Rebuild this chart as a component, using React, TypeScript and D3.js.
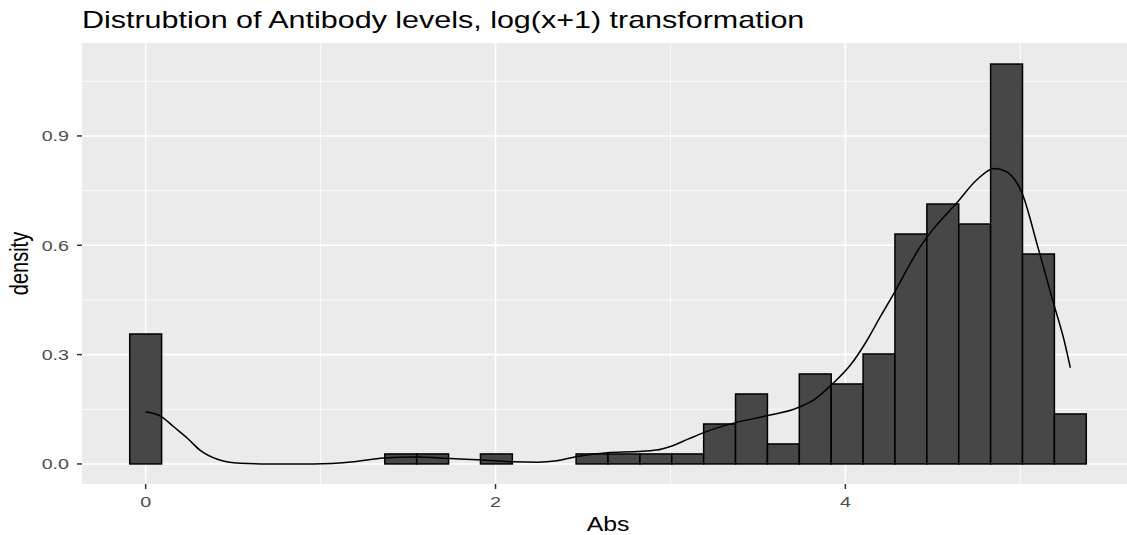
import React, { useEffect, useRef } from 'react';
import * as d3 from 'd3';

// histogram counts per bin (30 bins, centred at k * binWidth)
const binCounts = [13, 0, 0, 0, 0, 0, 0, 0, 1, 1, 0, 1, 0, 0, 1, 1, 1, 1, 4, 7, 2, 9, 8, 11, 23, 26, 24, 40, 21, 5];
const dataMax = 5.286;

// kernel density line
const densityX = [0, 0.09, 0.16, 0.24, 0.31, 0.41, 0.54, 0.7, 0.96, 1.19, 1.36, 1.55, 1.74, 1.93, 2.1, 2.24, 2.35, 2.46, 2.64, 2.81, 2.92, 3.0, 3.1, 3.19, 3.36, 3.55, 3.72, 3.82, 3.92, 4.03, 4.12, 4.2, 4.28, 4.35, 4.42, 4.5, 4.64, 4.75, 4.85, 4.92, 5.01, 5.1, 5.19, 5.25, 5.286];
const densityY = [0.143, 0.13, 0.102, 0.07, 0.038, 0.013, 0.002, 0, 0, 0.006, 0.016, 0.019, 0.015, 0.011, 0.006, 0.005, 0.009, 0.02, 0.031, 0.034, 0.038, 0.048, 0.068, 0.086, 0.112, 0.132, 0.153, 0.176, 0.217, 0.272, 0.336, 0.404, 0.47, 0.532, 0.59, 0.643, 0.718, 0.779, 0.811, 0.802, 0.743, 0.596, 0.441, 0.34, 0.264];

const xTicks = [0, 2, 4];
const xMinor = [1, 3, 5];
const yTicks = [0, 0.3, 0.6, 0.9];
const yMinor = [0.15, 0.45, 0.75, 1.05];

const W = 1127;
const H = 535;
const stretch = 1.27; // the reference text is rendered wide

const createChart = (container: SVGSVGElement) => {
    d3.select(container).selectAll('*').remove();
    const svg = d3.select(container);

    const panel = { left: 82, right: 1134, top: 43, bottom: 484 };
    const x = d3.scaleLinear().domain([-0.364, 5.65]).range([panel.left, panel.right]);
    const y = d3.scaleLinear().domain([-0.055, 1.155]).range([panel.bottom, panel.top]);

    const n = d3.sum(binCounts);
    const binWidth = dataMax / (binCounts.length - 1);
    const bins = binCounts.map((c, i) => ({ x0: i * binWidth - binWidth / 2, x1: i * binWidth + binWidth / 2, d: c / (n * binWidth) }));

    svg.append('rect')
        .attr('x', panel.left).attr('y', panel.top)
        .attr('width', panel.right - panel.left).attr('height', panel.bottom - panel.top)
        .attr('fill', '#ebebeb');

    const grid = svg.append('g');
    grid.selectAll('.xminor').data(xMinor).enter().append('line')
        .attr('x1', d => x(d)).attr('x2', d => x(d))
        .attr('y1', panel.top).attr('y2', panel.bottom)
        .attr('stroke', '#fff').attr('stroke-width', 0.8);
    grid.selectAll('.yminor').data(yMinor).enter().append('line')
        .attr('y1', d => y(d)).attr('y2', d => y(d))
        .attr('x1', panel.left).attr('x2', panel.right)
        .attr('stroke', '#fff').attr('stroke-width', 0.8);
    grid.selectAll('.xmajor').data(xTicks).enter().append('line')
        .attr('x1', d => x(d)).attr('x2', d => x(d))
        .attr('y1', panel.top).attr('y2', panel.bottom)
        .attr('stroke', '#fff').attr('stroke-width', 1.6);
    grid.selectAll('.ymajor').data(yTicks).enter().append('line')
        .attr('y1', d => y(d)).attr('y2', d => y(d))
        .attr('x1', panel.left).attr('x2', panel.right)
        .attr('stroke', '#fff').attr('stroke-width', 1.6);

    svg.append('g').selectAll('rect')
        .data(bins.filter(b => b.d > 0))
        .enter().append('rect')
        .attr('x', d => x(d.x0))
        .attr('width', d => x(d.x1) - x(d.x0))
        .attr('y', d => y(d.d))
        .attr('height', d => y(0) - y(d.d))
        .attr('fill', '#474747')
        .attr('stroke', '#000')
        .attr('stroke-width', 1.5);

    const line = d3.line<number>()
        .x((d, i) => x(densityX[i]))
        .y(d => y(d))
        .curve(d3.curveMonotoneX);
    svg.append('path')
        .attr('d', line(densityY))
        .attr('fill', 'none')
        .attr('stroke', '#000')
        .attr('stroke-width', 1.5);

    const font = 'Liberation Sans, Arial, sans-serif';

    // axes
    const xAxis = svg.append('g');
    xAxis.selectAll('line').data(xTicks).enter().append('line')
        .attr('x1', d => x(d)).attr('x2', d => x(d))
        .attr('y1', panel.bottom).attr('y2', panel.bottom + 5)
        .attr('stroke', '#333').attr('stroke-width', 1.5);
    xAxis.selectAll('text').data(xTicks).enter().append('text')
        .attr('transform', d => `translate(${x(d)},507) scale(${stretch},1)`)
        .attr('text-anchor', 'middle')
        .style('font-family', font).style('font-size', '15.5px').attr('fill', '#4d4d4d')
        .text(d => d3.format('d')(d));

    const yAxis = svg.append('g');
    yAxis.selectAll('line').data(yTicks).enter().append('line')
        .attr('y1', d => y(d)).attr('y2', d => y(d))
        .attr('x1', panel.left - 5).attr('x2', panel.left)
        .attr('stroke', '#333').attr('stroke-width', 1.5);
    yAxis.selectAll('text').data(yTicks).enter().append('text')
        .attr('transform', d => `translate(69,${y(d) + 5.5}) scale(${stretch},1)`)
        .attr('text-anchor', 'end')
        .style('font-family', font).style('font-size', '15.5px').attr('fill', '#4d4d4d')
        .text(d => d3.format('.1f')(d));

    svg.append('text')
        .attr('transform', `translate(${(panel.left + panel.right) / 2},531) scale(1.18,1)`)
        .attr('text-anchor', 'middle')
        .style('font-family', font).style('font-size', '21px').attr('fill', '#000')
        .text('Abs');

    svg.append('text')
        .attr('transform', `translate(28,${(panel.top + panel.bottom) / 2}) rotate(-90) scale(1,${stretch})`)
        .attr('text-anchor', 'middle')
        .style('font-family', font).style('font-size', '20px').attr('fill', '#000')
        .text('density');

    svg.append('text')
        .attr('transform', `translate(${panel.left},28) scale(${stretch},1)`)
        .style('font-family', font).style('font-size', '24px').attr('fill', '#000')
        .text('Distrubtion of Antibody levels, log(x+1) transformation');
};

const App = () => {
    const ref = useRef<SVGSVGElement>(null);

    useEffect(() => {
        if (ref.current) {
            createChart(ref.current);
        }
    }, []);

    return (
        <svg ref={ref} width={W} height={H} style={{ position: 'absolute', left: 0, top: 0, background: '#fff' }} />
    );
};

export default App;
